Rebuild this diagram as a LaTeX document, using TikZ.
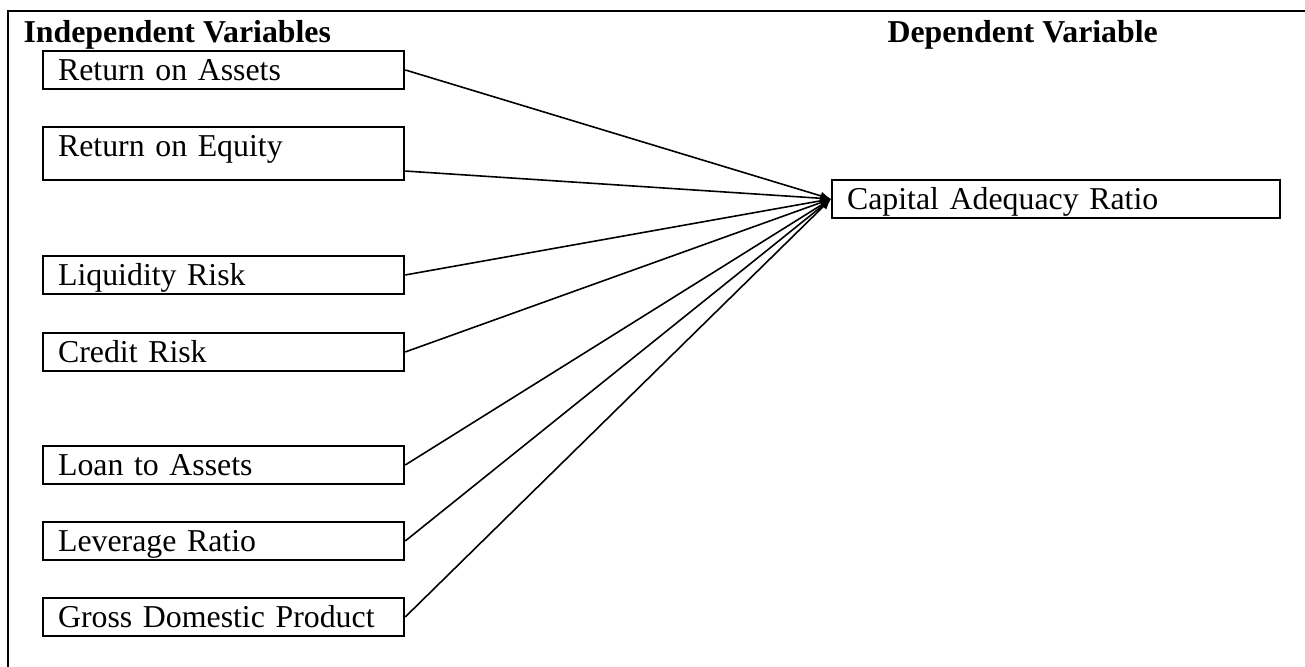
\documentclass[tikz,border=0pt,12pt]{standalone}
\usepackage{fontspec}
\setmainfont{Liberation Serif}
\usepackage{tikz}
\usetikzlibrary{positioning, arrows.meta}

\tikzset{
    varbox/.style={draw, line width=0.75pt, anchor=north west, align=left,
        inner xsep=5.7pt, inner ysep=1pt, text height=10pt, text depth=2.3pt,
        text width=124.8pt, font=\fontsize{12}{14}\selectfont},
    heading/.style={anchor=base west, inner sep=0pt, font=\fontsize{12}{14}\selectfont\bfseries},
    conn/.style={line width=0.6pt, -{Latex[length=4pt,width=3.2pt]}}
}

\begin{document}
\begin{tikzpicture}[x=0.377pt, y=-0.377pt]
        \useasboundingbox (0,0) rectangle (1305,667);
        \draw[line width=0.75pt] (1305,11) -- (8,11) -- (8,667);
        \node[heading] (indep) at (23,42) {Independent Variables};
        \node[heading] (dep) at (887,42) {Dependent Variable};
        \node[varbox] (roa) at (42,50) {Return on Assets};
        \node[varbox, text depth=8pt] (roe) at (42,126) {Return on Equity};
        \node[varbox] (liq) at (42,255) {Liquidity Risk};
        \node[varbox] (cred) at (42,332) {Credit Risk};
        \node[varbox] (loan) at (42,445) {Loan to Assets};
        \node[varbox] (lev) at (42,521) {Leverage Ratio};
        \node[varbox] (gdp) at (42,597) {Gross Domestic Product};
        \node[varbox, text width=157.6pt] (car) at (831,179) {Capital Adequacy Ratio};
        \draw[conn] (roa.east) -- (car.west);
        \draw[conn] ([yshift=-6.6pt]roe.east) -- (car.west);
        \draw[conn] (liq.east) -- (car.west);
        \draw[conn] (cred.east) -- (car.west);
        \draw[conn] (loan.east) -- (car.west);
        \draw[conn] (lev.east) -- (car.west);
        \draw[conn] (gdp.east) -- (car.west);
    \end{tikzpicture}
\end{document}
